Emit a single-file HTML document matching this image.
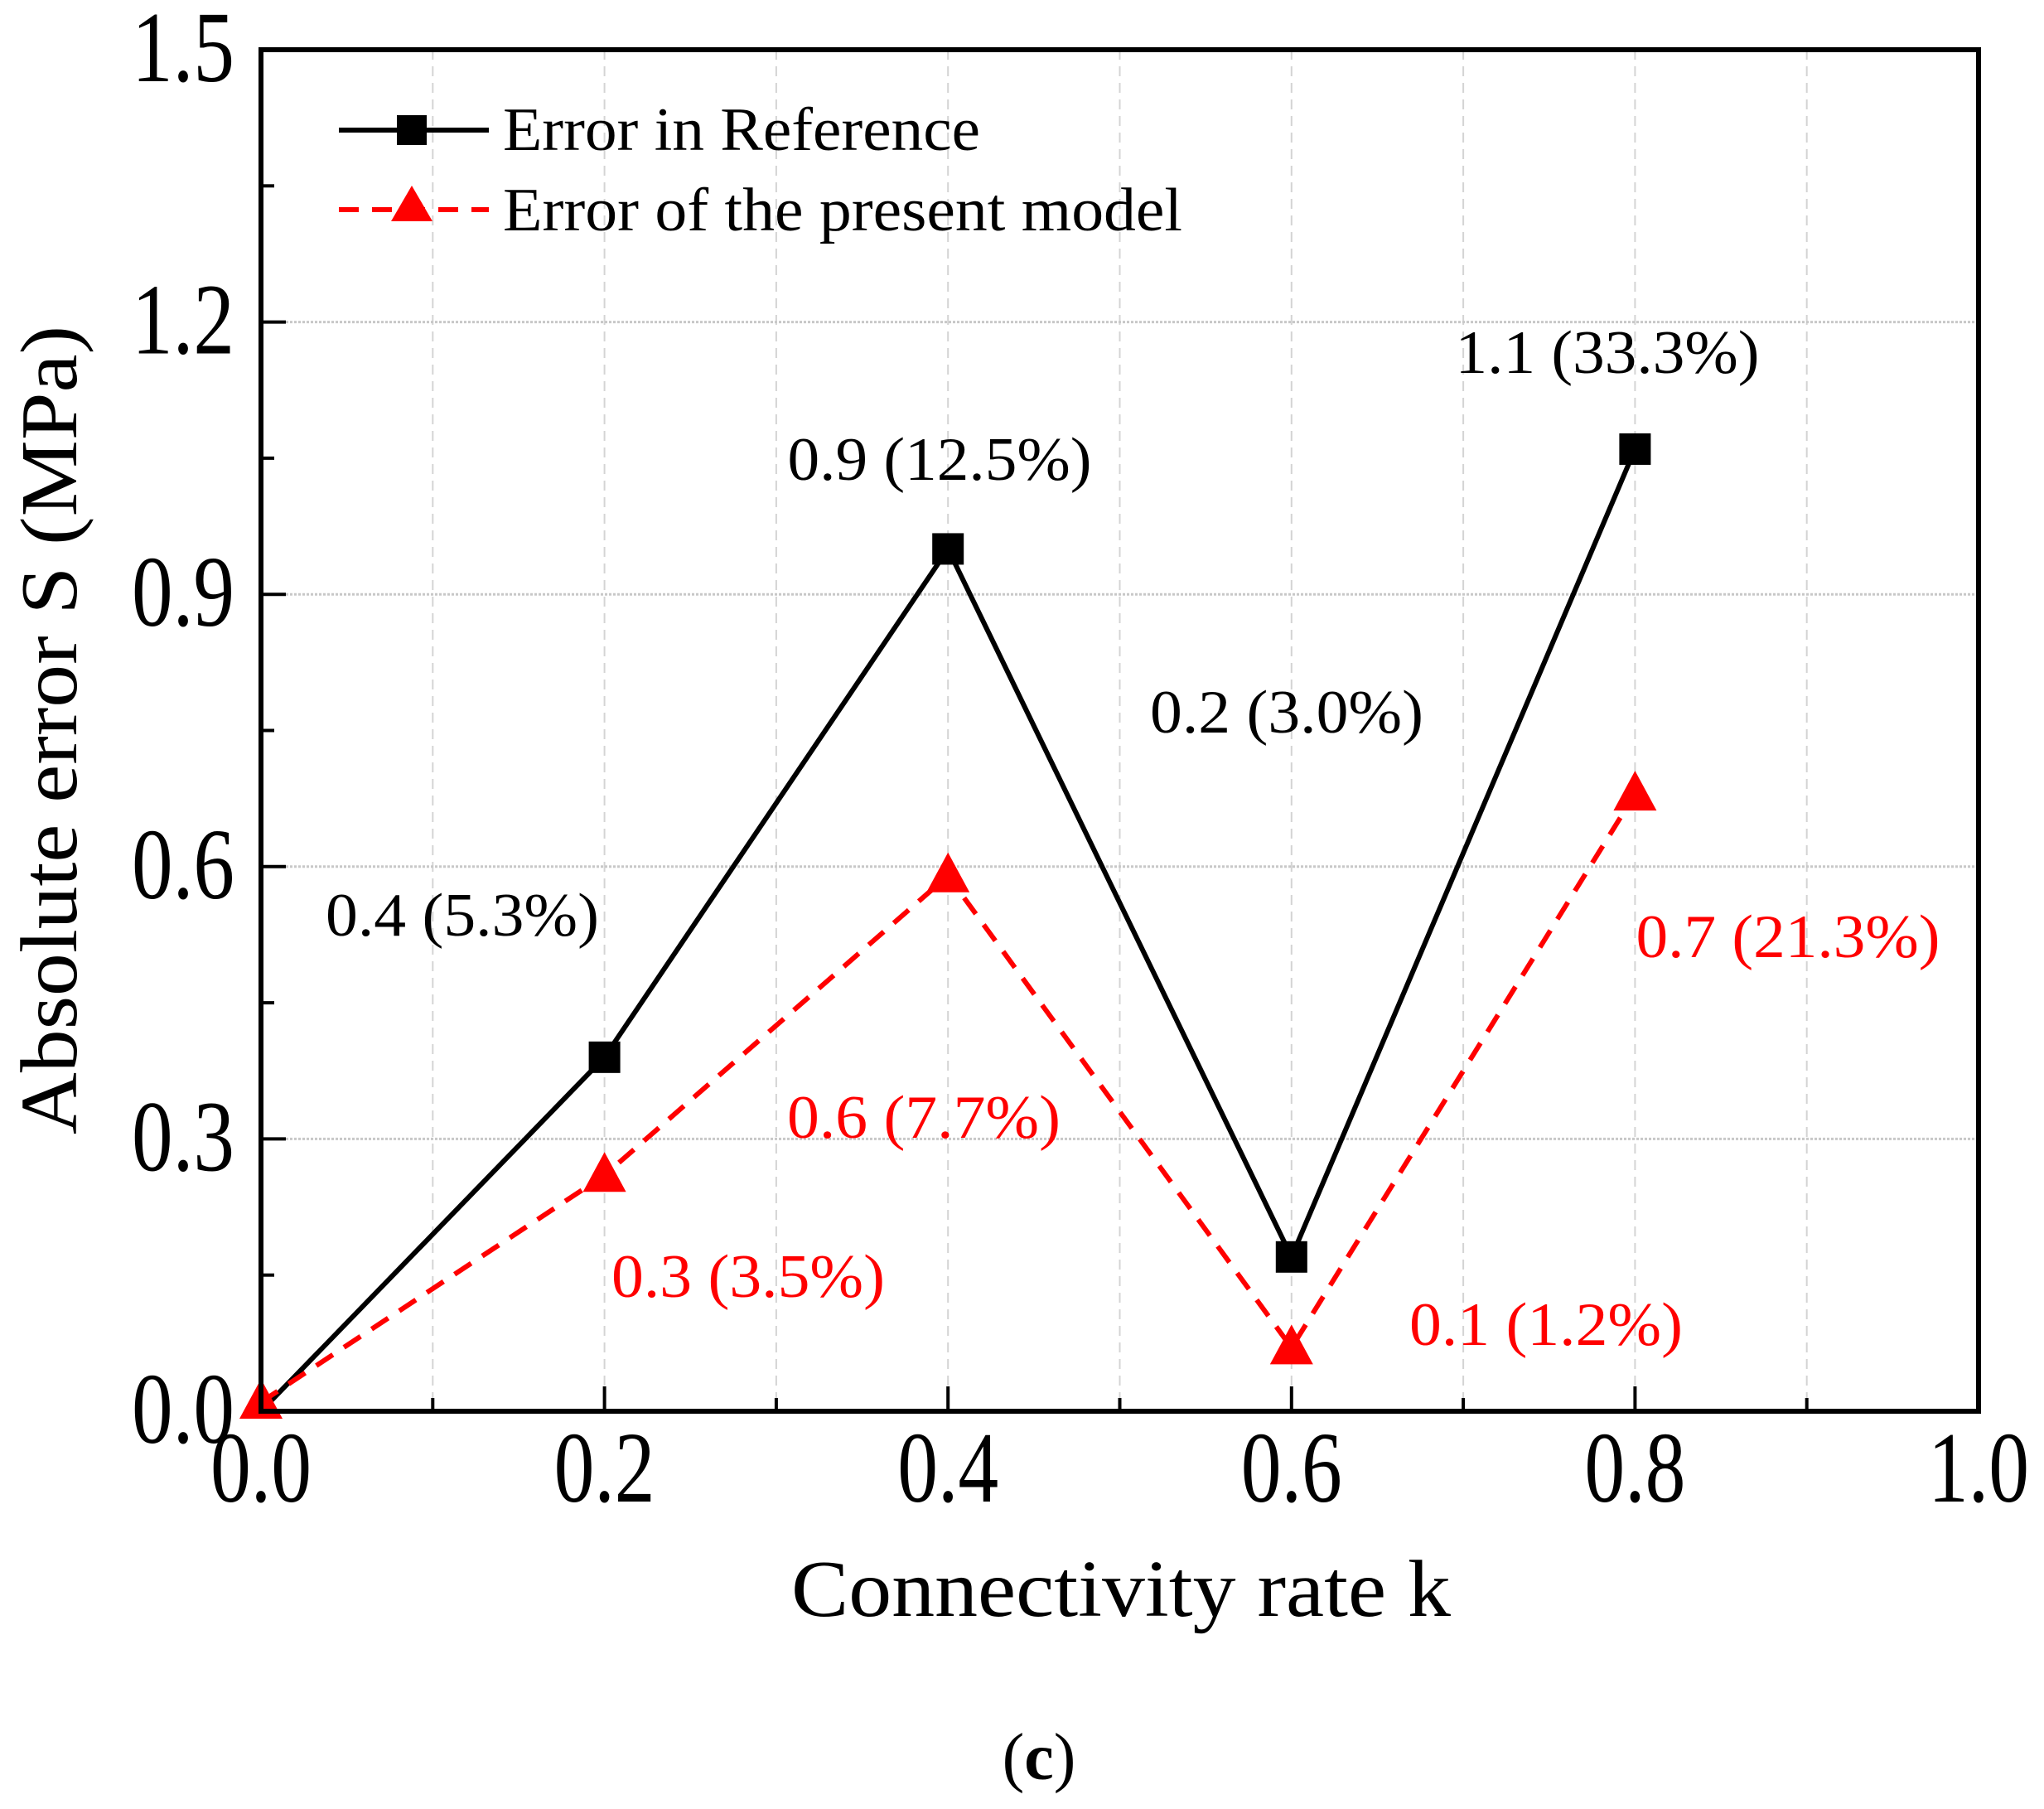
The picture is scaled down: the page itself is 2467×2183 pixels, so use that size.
<!DOCTYPE html>
<html><head><meta charset="utf-8"><style>html,body{margin:0;padding:0;background:#fff}svg{display:block}</style></head>
<body>
<svg id="chart" xmlns="http://www.w3.org/2000/svg" width="2467" height="2183" viewBox="0 0 2467 2183" font-family="'Liberation Serif', serif">
<rect width="2467" height="2183" fill="#fff"/>
<g id="grid"></g>
<g id="series"></g>
<rect x="315" y="60" width="2073" height="1643" fill="none" stroke="#000" stroke-width="6"/>
<g id="ticks"></g>
<g id="labels"></g>
<text transform="translate(92,881) rotate(-90)" text-anchor="middle" font-size="98" textLength="976" lengthAdjust="spacingAndGlyphs">Absolute error S (MPa)</text>
<text x="1353" y="1950" text-anchor="middle" font-size="98" textLength="796" lengthAdjust="spacingAndGlyphs">Connectivity rate k</text>
<text x="1254" y="2147" text-anchor="middle" font-size="80">(<tspan font-weight="bold">c</tspan>)</text>
<g>
<line x1="409" y1="157" x2="590" y2="157" stroke="#000" stroke-width="6"/>
<rect x="479" y="139" width="36" height="36" fill="#000"/>
<text x="607" y="181" font-size="74" textLength="576" lengthAdjust="spacingAndGlyphs">Error in Reference</text>
<line x1="409" y1="253" x2="590" y2="253" stroke="#f00" stroke-width="6" stroke-dasharray="24,16"/>
<polygon points="497,224 472,267 522,267" fill="#f00"/>
<text x="607" y="278" font-size="74" textLength="820" lengthAdjust="spacingAndGlyphs">Error of the present model</text>
</g>
</svg>
<script>
const categories = [0, 0.2, 0.4, 0.6, 0.8];
const refValues = [0, 0.39, 0.95, 0.17, 1.06];
const modelValues = [0.01, 0.26, 0.59, 0.07, 0.68];
const xTicks = ["0.0","0.2","0.4","0.6","0.8","1.0"];
const yTicks = ["0.0","0.3","0.6","0.9","1.2","1.5"];
const refLabels = ["0.4 (5.3%)","0.9 (12.5%)","0.2 (3.0%)","1.1 (33.3%)"];
const modelLabels = ["0.3 (3.5%)","0.6 (7.7%)","0.1 (1.2%)","0.7 (21.3%)"];

const NS="http://www.w3.org/2000/svg";
const L=315,R=2388,T=60,B=1703;
const xs=v=>L+(v-0)/(1-0)*(R-L);
const ys=v=>B-(v-0)/(1.5-0)*(B-T);
function mk(tag,attrs,parent){const e=document.createElementNS(NS,tag);for(const k in attrs)e.setAttribute(k,attrs[k]);parent.appendChild(e);return e;}
const grid=document.getElementById('grid'),ticks=document.getElementById('ticks'),series=document.getElementById('series'),labels=document.getElementById('labels');
for(let i=1;i<10;i++){const x=xs(i/10);
 const g=mk('line',{x1:x,x2:x,y1:T,y2:B,stroke:'#d4d4d4','stroke-width':2,'stroke-dasharray':'12,8'},grid);
 
 }
for(let i=1;i<5;i++){const y=ys(i*0.3);
 const g=mk('line',{x1:L,x2:R,y1:y,y2:y,stroke:'#c8c8c8','stroke-width':3,'stroke-dasharray':'3,2'},grid);
 
 }
xTicks.forEach((t,i)=>{const v=i*0.2,x=xs(v);
 mk('line',{x1:x,x2:x,y1:B,y2:B-30,stroke:'#000','stroke-width':4},ticks);
 if(i<5)mk('line',{x1:xs(v+0.1),x2:xs(v+0.1),y1:B,y2:B-16,stroke:'#000','stroke-width':4},ticks);
 const e=mk('text',{x:x,y:1812,'text-anchor':'middle','font-size':122,textLength:122,lengthAdjust:'spacingAndGlyphs'},ticks);
 e.textContent=t;
 
 });
yTicks.forEach((t,i)=>{const v=i*0.3,y=ys(v);
 mk('line',{x1:L,x2:L+30,y1:y,y2:y,stroke:'#000','stroke-width':4},ticks);
 if(i<5)mk('line',{x1:L,x2:L+16,y1:ys(v+0.15),y2:ys(v+0.15),stroke:'#000','stroke-width':4},ticks);
 const e=mk('text',{x:283,y:y+38,'text-anchor':'end','font-size':122,textLength:124,lengthAdjust:'spacingAndGlyphs'},ticks);
 e.textContent=t;
 
 });
const rp=mk('polyline',{points:categories.map((c,i)=>xs(c)+','+ys(refValues[i])).join(' '),fill:'none',stroke:'#000','stroke-width':6},series);


const mp=mk('polyline',{points:categories.map((c,i)=>xs(c)+','+ys(modelValues[i])).join(' '),fill:'none',stroke:'#f00','stroke-width':6,'stroke-dasharray':'24,16'},series);


categories.forEach((c,i)=>{const x=xs(c);
 if(i>0){const s=mk('rect',{x:x-19,y:ys(refValues[i])-19,width:38,height:38,fill:'#000'},series);
  
  }
 const y=ys(modelValues[i]);
 const tr=mk('polygon',{points:`${x},${y-28} ${x-26},${y+20} ${x+26},${y+20}`,fill:'#f00'},series);
 
 });
const refPos=[[558,1129,330],[1134,579,367],[1553,884,330],[1940,450,367]];
const modPos=[[903,1565,330],[1115,1373,330],[1866,1623,330],[2158,1155,367]];
refLabels.forEach((t,i)=>{const p=refPos[i];
 const e=mk('text',{x:p[0],y:p[1],'text-anchor':'middle','font-size':74,textLength:p[2],lengthAdjust:'spacingAndGlyphs',fill:'#000'},labels);
 e.textContent=t;
 
 });
modelLabels.forEach((t,i)=>{const p=modPos[i];
 const e=mk('text',{x:p[0],y:p[1],'text-anchor':'middle','font-size':74,textLength:p[2],lengthAdjust:'spacingAndGlyphs',fill:'#f00'},labels);
 e.textContent=t;
 
 });
</script>
</body></html>
